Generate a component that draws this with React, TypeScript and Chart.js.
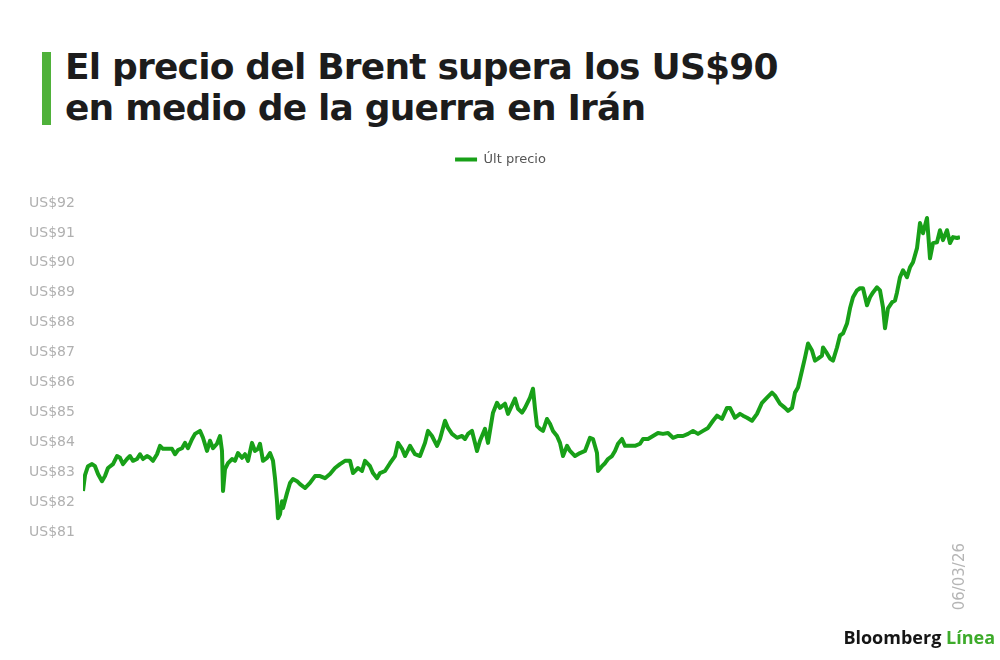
import React, { useEffect, useRef } from "react";
import { Chart, registerables } from "chart.js";

Chart.register(...registerables);

// Eje temporal (unidades de muestra desde el inicio) y último precio del Brent (US$)
const tiempo: number[] = [
  0, 2, 5, 9, 12, 15, 19, 22, 25, 30,
  34, 37, 40, 44, 47, 50, 54, 57, 60, 64,
  67, 70, 74, 77, 80, 84, 89, 92, 95, 99,
  102, 105, 109, 112, 117, 120, 124, 127, 130, 134,
  137, 139, 140, 142, 145, 149, 152, 155, 159, 162,
  165, 169, 172, 175, 177, 180, 184, 187, 190, 192,
  194, 195, 197, 199, 200, 204, 207, 210, 214, 217,
  222, 227, 232, 237, 242, 247, 252, 257, 262, 267,
  270, 275, 279, 282, 287, 290, 294, 297, 302, 307,
  312, 315, 319, 322, 327, 332, 337, 342, 345, 349,
  354, 357, 362, 365, 369, 374, 379, 382, 385, 389,
  394, 397, 402, 405, 410, 414, 417, 422, 425, 432,
  435, 439, 442, 447, 450, 452, 454, 457, 460, 464,
  467, 470, 474, 477, 480, 484, 487, 492, 497, 502,
  507, 510, 514, 515, 519, 522, 525, 529, 532, 535,
  539, 542, 547, 552, 557, 560, 565, 570, 575, 580,
  585, 590, 595, 600, 605, 610, 615, 620, 625, 630,
  634, 639, 644, 647, 652, 657, 660, 664, 669, 674,
  679, 684, 689, 692, 697, 702, 705, 709, 712, 715,
  719, 722, 725, 729, 732, 735, 739, 740, 744, 747,
  750, 754, 757, 760, 764, 767, 770, 774, 777, 780,
  784, 787, 790, 794, 797, 800, 802, 805, 809, 812,
  814, 817, 820, 824, 827, 830, 834, 837, 840, 844,
  847, 850, 854, 857, 860, 864, 867, 870, 874, 877,
];

const ultPrecio: number[] = [
  82.37, 82.9, 83.2, 83.27, 83.2, 82.94, 82.7, 82.87, 83.14, 83.27,
  83.54, 83.48, 83.27, 83.44, 83.54, 83.38, 83.44, 83.6, 83.44, 83.54,
  83.48, 83.38, 83.6, 83.88, 83.78, 83.78, 83.78, 83.6, 83.74, 83.8,
  83.98, 83.8, 84.1, 84.28, 84.38, 84.15, 83.71, 84.05, 83.8, 83.95,
  84.21, 83.71, 82.37, 83.1, 83.3, 83.44, 83.38, 83.64, 83.48, 83.6,
  83.38, 83.98, 83.71, 83.78, 83.95, 83.38, 83.48, 83.64, 83.38, 82.8,
  82.03, 81.46, 81.6, 82.03, 81.8, 82.3, 82.64, 82.77, 82.7, 82.6,
  82.47, 82.64, 82.87, 82.87, 82.8, 82.94, 83.14, 83.27, 83.38, 83.38,
  82.97, 83.14, 83.04, 83.38, 83.2, 82.97, 82.8, 82.97, 83.04, 83.3,
  83.54, 83.98, 83.78, 83.54, 83.88, 83.6, 83.54, 83.98, 84.38, 84.21,
  83.88, 84.11, 84.72, 84.48, 84.28, 84.15, 84.21, 84.11, 84.28, 84.38,
  83.71, 84.05, 84.45, 83.98, 84.99, 85.32, 85.15, 85.29, 84.95, 85.46,
  85.12, 84.99, 85.15, 85.49, 85.79, 85.12, 84.55, 84.45, 84.38, 84.78,
  84.62, 84.38, 84.21, 83.98, 83.54, 83.88, 83.71, 83.54, 83.64, 83.71,
  84.15, 84.11, 83.64, 83.04, 83.2, 83.3, 83.44, 83.54, 83.71, 83.95,
  84.11, 83.88, 83.88, 83.88, 83.95, 84.11, 84.11, 84.21, 84.31, 84.28,
  84.31, 84.15, 84.21, 84.21, 84.28, 84.38, 84.28, 84.38, 84.48, 84.72,
  84.89, 84.78, 85.15, 85.15, 84.82, 84.95, 84.89, 84.82, 84.72, 84.95,
  85.32, 85.49, 85.66, 85.56, 85.29, 85.15, 85.05, 85.15, 85.66, 85.83,
  86.4, 86.83, 87.3, 87.07, 86.73, 86.8, 86.9, 87.17, 86.97, 86.8,
  86.73, 87.17, 87.57, 87.64, 87.97, 88.48, 88.85, 89.08, 89.15, 89.15,
  88.58, 88.85, 89.01, 89.18, 89.08, 88.51, 87.81, 88.48, 88.68, 88.74,
  89.01, 89.52, 89.75, 89.52, 89.85, 90.02, 90.49, 91.33, 90.99, 91.5,
  90.15, 90.66, 90.69, 91.09, 90.76, 91.09, 90.66, 90.86, 90.83, 90.86,
];

const serieNombre = "Últ precio";
const fechaFinal = "06/03/26";
const yMin = 81;
const yMax = 92;

const titulo = ["El precio del Brent supera los US$90", "en medio de la guerra en Irán"];

const VERDE_LINEA = "#18a018";
const LEGEND_EXTRA = 27;
const LEGEND_SHIFT = 6;

const legendSpacer = {
  id: "legendSpacer",
  beforeLayout(chart: any) {
    const legend = chart.legend;
    if (legend && !legend.__patched) {
      const orig = legend.fit;
      legend.fit = function () {
        orig.call(this);
        this.height += LEGEND_EXTRA;
      };
      legend.__patched = true;
    }
  },
  afterLayout(chart: any) {
    const legend = chart.legend;
    if (legend) {
      legend.left += LEGEND_SHIFT;
      legend.right += LEGEND_SHIFT;
    }
  },
};

export default function App() {
  const canvasRef = useRef<HTMLCanvasElement | null>(null);

  useEffect(() => {
    if (!canvasRef.current) return;
    const puntos = tiempo.map((t, i) => ({ x: t, y: ultPrecio[i] }));
    const ultimo = tiempo[tiempo.length - 1];
    const chart = new Chart(canvasRef.current, {
      type: "line",
      data: {
        datasets: [
          {
            label: serieNombre,
            data: puntos,
            borderColor: VERDE_LINEA,
            backgroundColor: VERDE_LINEA,
            borderWidth: 4,
            pointRadius: 0,
            tension: 0,
            borderJoinStyle: "round",
          },
        ],
      },
      options: {
        animation: false,
        responsive: false,
        maintainAspectRatio: false,
        layout: { padding: { top: 3, left: 29, right: 40, bottom: 0 } },
        plugins: {
          legend: {
            display: true,
            position: "top",
            labels: {
              usePointStyle: true,
              pointStyle: "line",
              pointStyleWidth: 22,
              color: "#555555",
              font: { family: "'DejaVu Sans', sans-serif", size: 13 },
              padding: 10,
            },
          },
          tooltip: { enabled: false },
        },
        scales: {
          x: {
            type: "linear",
            min: 0,
            max: ultimo,
            grid: { display: false, drawTicks: false },
            border: { display: false },
            afterBuildTicks: (scale: any) => {
              scale.ticks = [{ value: ultimo }];
            },
            afterFit: (scale: any) => {
              scale.height = 128;
            },
            ticks: {
              autoSkip: false,
              minRotation: 90,
              maxRotation: 90,
              padding: 11,
              color: "#b5b5b5",
              font: { family: "'DejaVu Sans', sans-serif", size: 15 },
              callback: () => fechaFinal,
            },
          },
          y: {
            min: yMin,
            max: yMax,
            grid: { display: false, drawTicks: false },
            border: { display: false },
            afterFit: (scale: any) => {
              scale.width = 54;
            },
            ticks: {
              stepSize: 1,
              crossAlign: "far",
              color: "#b0b0b0",
              font: { family: "'DejaVu Sans', sans-serif", size: 14 },
              callback: (v: any) => "US$" + v,
            },
          },
        },
      },
      plugins: [legendSpacer],
    } as any);
    return () => chart.destroy();
  }, []);

  return (
    <div
      style={{
        position: "absolute",
        left: 0,
        top: 0,
        width: 1000,
        height: 660,
        background: "#ffffff",
        overflow: "hidden",
        fontFamily: "Roboto, 'Liberation Sans', sans-serif",
      }}
    >
      <div
        style={{
          position: "absolute",
          left: 42,
          top: 52,
          width: 9,
          height: 73,
          background: "#4fb13a",
        }}
      />
      <div
        style={{
          position: "absolute",
          left: 65,
          top: 46,
          fontFamily: "'DejaVu Sans', sans-serif",
          fontSize: 36,
          lineHeight: "41px",
          fontWeight: 700,
          color: "#1c1c1c",
          letterSpacing: "-0.8px",
          whiteSpace: "nowrap",
        }}
      >
        {titulo.map((l, i) => (
          <div key={i}>{l}</div>
        ))}
      </div>
      <canvas
        ref={canvasRef}
        width={1000}
        height={520}
        style={{ position: "absolute", left: 0, top: 140, width: 1000, height: 520 }}
      />
      <div
        style={{
          position: "absolute",
          right: 5,
          top: 628,
          fontFamily: "'Open Sans', sans-serif",
          fontSize: 18,
          lineHeight: "18px",
          fontWeight: 700,
          whiteSpace: "nowrap",
        }}
      >
        <span style={{ color: "#151515" }}>Bloomberg </span>
        <span style={{ color: "#3dab2a" }}>Línea</span>
      </div>
    </div>
  );
}
